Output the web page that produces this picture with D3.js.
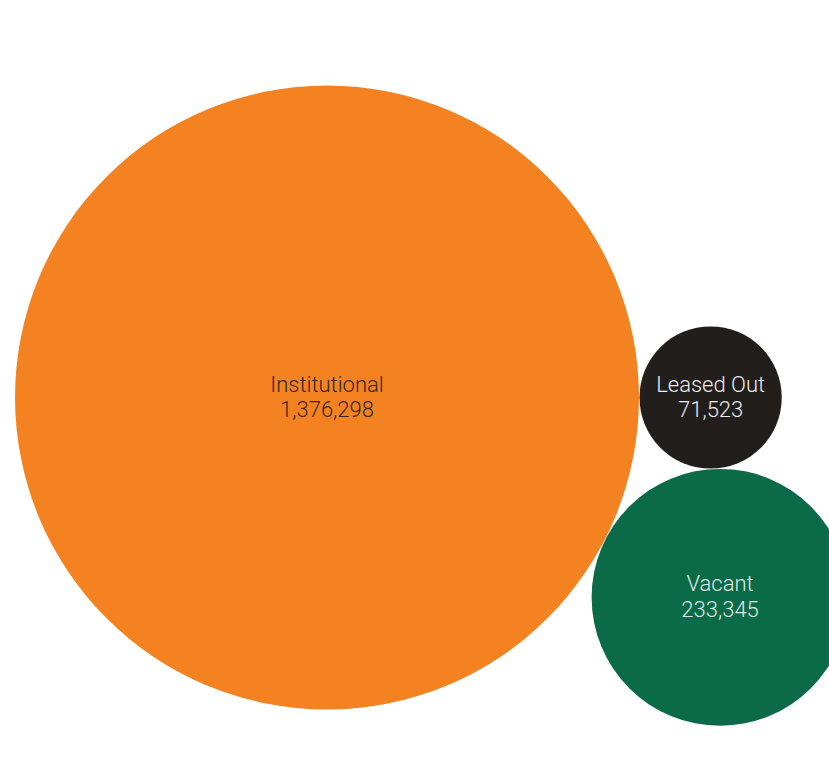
<!DOCTYPE html>
<html>
<head>
<meta charset="utf-8">
<script src="https://cdn.jsdelivr.net/npm/d3@7"></script>
<style>
  html, body { margin: 0; padding: 0; background: #ffffff; }
  svg { display: block; }
</style>
</head>
<body>
<svg id="chart" width="829" height="757"></svg>
<script>
// Data
const categories = ["Institutional", "Leased Out", "Vacant"];
const values = [1376298, 71523, 233345];
const colors = ["#F48220", "#221E1C", "#0B6A48"];
const textColors = ["#33261a", "#ececec", "#dfe9e2"];

const W = 829, H = 757;
const svg = d3.select("#chart");

// Area-proportional radius scale
const rScale = d3.scaleSqrt().domain([0, d3.max(values)]).range([0, 312]);
const radii = values.map(v => rScale(v));

// Layout: largest circle anchored, others tangent to it
const cx0 = 327, cy0 = 397.5, gap = 0.5;
const centers = [];
centers[0] = [cx0, cy0];
centers[1] = [cx0 + radii[0] + radii[1] + gap, cy0];
// third tangent to both first and second (below)
(function () {
  const [ax, ay] = centers[0], [bx, by] = centers[1];
  const da = radii[0] + radii[2] + gap, db = radii[1] + radii[2] + gap;
  const d = Math.hypot(bx - ax, by - ay);
  const a = (da * da - db * db + d * d) / (2 * d);
  const h = Math.sqrt(Math.max(0, da * da - a * a));
  const ux = (bx - ax) / d, uy = (by - ay) / d;
  centers[2] = [ax + a * ux - h * uy, ay + a * uy + h * ux];
})();

const fmt = d3.format(",");
const data = categories.map((c, i) => ({
  name: c, value: values[i], r: radii[i],
  x: centers[i][0], y: centers[i][1],
  fill: colors[i], tc: textColors[i]
}));

const g = svg.selectAll("g.bubble").data(data).join("g")
  .attr("class", "bubble")
  .attr("transform", d => `translate(${d.x},${d.y})`);

g.append("circle")
  .attr("r", d => d.r)
  .attr("fill", d => d.fill);

const txt = g.append("text")
  .attr("text-anchor", "middle")
  .attr("font-family", "Roboto, 'Open Sans', sans-serif")
  .attr("font-weight", 300)
  .attr("font-size", 22)
  .attr("fill", d => d.tc);

txt.append("tspan").attr("x", 0).attr("y", -6).text(d => d.name);
txt.append("tspan").attr("x", 0).attr("y", 19.5).text(d => fmt(d.value));
</script>
</body>
</html>
